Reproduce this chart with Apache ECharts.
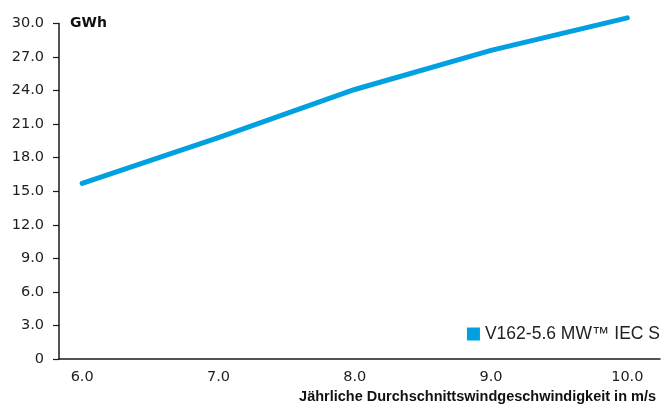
<!DOCTYPE html>
<html>
<head>
<meta charset="utf-8">
<script src="https://cdn.jsdelivr.net/npm/echarts@6/dist/echarts.min.js"></script>
<style>
html,body{margin:0;padding:0;background:#fff;}
#chart{width:661px;height:404px;}
</style>
</head>
<body>
<div id="chart"></div>
<script>
const windSpeeds = [6.0, 7.0, 8.0, 9.0, 10.0];
const energyGWh = [15.7, 19.8, 24.1, 27.6, 30.5];
const xTickLabels = [6, 7, 8, 9, 10];
const seriesName = 'V162-5.6 MW™ IEC S';
const yUnit = 'GWh';
const xTitle = 'Jährliche Durchschnittswindgeschwindigkeit in m/s';

const chart = echarts.init(document.getElementById('chart'), null, {renderer: 'canvas'});
const axisColor = '#1a1a1a';
const labelFont = "'DejaVu Sans', sans-serif";

chart.setOption({
  animation: false,
  backgroundColor: '#fff',
  grid: {left: 59, right: 1, top: 23.5, bottom: 45, containLabel: false},
  legend: {
    data: [seriesName],
    right: 1,
    top: 325,
    icon: 'rect',
    itemWidth: 13,
    itemHeight: 13,
    itemGap: 6,
    padding: [0, 0, 0, 0],
    textStyle: {fontFamily: "'Liberation Sans', sans-serif", fontSize: 17.5, color: '#222'}
  },
  xAxis: {
    type: 'value',
    min: 5.83,
    max: 10.24,
    splitLine: {show: false},
    axisLine: {show: true, lineStyle: {color: axisColor, width: 1.5}},
    axisTick: {show: false},
    axisLabel: {
      customValues: xTickLabels,
      formatter: v => v.toFixed(1),
      fontFamily: labelFont, fontSize: 14.5, color: '#1e1e1e', margin: 11
    },
    name: xTitle,
    nameLocation: 'end',
    nameGap: 0,
    nameTextStyle: {
      fontFamily: "'Liberation Sans', sans-serif",
      fontWeight: 'bold', fontSize: 14.5, color: '#111',
      align: 'right', verticalAlign: 'top', padding: [30, 4, 0, 0]
    }
  },
  yAxis: {
    type: 'value',
    min: 0,
    max: 30,
    interval: 3,
    splitLine: {show: false},
    axisLine: {show: true, lineStyle: {color: axisColor, width: 1.5}},
    axisTick: {show: true, length: 6, lineStyle: {color: axisColor, width: 1.2}},
    axisLabel: {
      formatter: v => v === 0 ? '0' : v.toFixed(1),
      fontFamily: labelFont, fontSize: 14.5, color: '#1e1e1e', margin: 15
    }
  },
  graphic: [{
    type: 'text',
    left: 70,
    top: 16,
    style: {text: yUnit, fontFamily: labelFont, fontWeight: 'bold', fontSize: 14, fill: '#111'}
  }],
  series: [{
    name: seriesName,
    type: 'line',
    clip: false,
    data: windSpeeds.map((x, i) => [x, energyGWh[i]]),
    showSymbol: false,
    symbol: 'none',
    lineStyle: {color: '#00a0e1', width: 5, cap: 'round', join: 'round'},
    itemStyle: {color: '#00a0e1'}
  }]
});
</script>
</body>
</html>
